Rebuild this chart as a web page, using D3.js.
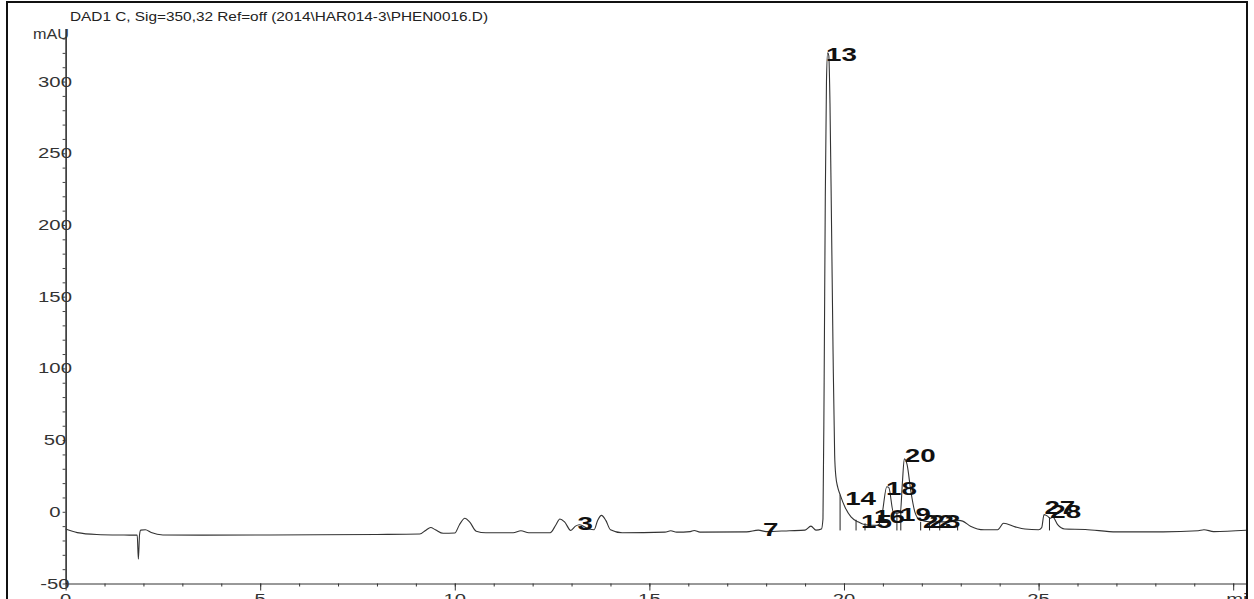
<!DOCTYPE html>
<html>
<head>
<meta charset="utf-8">
<script src="https://cdn.jsdelivr.net/npm/d3@7"></script>
<style>
  html, body { margin: 0; padding: 0; background: #fff; }
  svg { display: block; }
</style>
</head>
<body>
<div id="chart"></div>
<script>
// signal trace (time in min, signal in mAU)
const traceTime = [
  0.00, 0.30, 0.80, 1.50, 1.84, 1.87, 1.90, 1.93, 2.05, 2.20, 2.50, 3.50, 5.00, 6.50, 8.00,
  9.10, 9.25, 9.38, 9.50, 9.70, 10.00, 10.12, 10.26, 10.38, 10.55, 10.80, 11.50, 11.70, 11.90,
  12.45, 12.60, 12.70, 12.82, 12.98, 13.10, 13.20, 13.45, 13.58, 13.67, 13.77, 13.88, 14.00,
  14.30, 15.40, 15.55, 15.70, 16.05, 16.15, 16.30, 17.50, 17.80, 18.00, 18.60, 19.00, 19.15,
  19.28, 19.42, 19.46, 19.49, 19.52, 19.55, 19.58, 19.61, 19.64, 19.68, 19.72, 19.76, 19.79,
  19.84, 19.90, 20.03, 20.18, 20.36, 20.54, 20.87, 20.97, 21.10, 21.15, 21.27, 21.35, 21.45,
  21.50, 21.55, 21.62, 21.72, 21.82, 21.95, 22.20, 22.70, 22.95, 23.05, 23.25, 23.60, 23.95,
  24.10, 24.40, 24.65, 25.00, 25.08, 25.14, 25.23, 25.30, 25.36, 25.49, 25.67, 26.20, 27.00,
  28.20, 29.10, 29.25, 29.50, 30.35
];
const traceMAU = [
  -12, -14.5, -15.8, -16.2, -16.3, -33, -16, -12.8, -12.5, -14.5, -16.2, -16.3, -16.2, -16, -15.8,
  -15.5, -13, -11, -12.5, -15, -14.8, -9, -4.5, -7, -13.5, -14.6, -14.6, -13.2, -14.6,
  -14.6, -9, -5, -7, -13, -10, -9, -12, -12.5, -6, -2.5, -6, -12.5,
  -14.6, -14.2, -13.2, -14.2, -13.8, -13, -14.2, -14, -12.8, -13.8, -13.2, -12.8, -10,
  -12.8, -12, -5, 90, 220, 300, 320, 318, 285, 200, 110, 40, 25,
  17, 12, 3, -3.5, -7, -9, -9.5, -3, 17.5, 17, -0.5, -1, 0,
  20, 37, 33, 14, 0, -5.6, -7, -7, -6, -6.5, -10, -12.5, -12.5,
  -8, -10.5, -12, -12.5, -11, -2, -3, -4.5, -3.5, -9, -12, -12.3, -14,
  -14, -13.2, -12.5, -13.8, -12.8
];

// peak annotations
const peakIds   = ['3', '7', '13', '14', '15', '16', '18', '19', '20', '22', '23', '27', '28'];
const labelTime = [13.15, 17.92, 19.54, 20.03, 20.44, 20.77, 21.08, 21.44, 21.56, 22.03, 22.2, 25.15, 25.3];
const labelMAU  = [-12.6, -16.7, 314, 4.9, -11, -7.7, 11.9, -6.3, 34.9, -11, -11, -1.4, -4.2];

// integration drop lines
const dropTime = [19.90, 20.31, 20.54, 21.36, 21.46, 21.97, 22.20, 22.46, 22.92, 25.28];
const dropMAU  = [12, -5.6, -8, 0, 0, -7, -7, -7, -9, -4];
const dropBase = -13;

const xTickValues = [0, 5, 10, 15, 20, 25, 30];
const xTickLabels = ['0', '5', '10', '15', '20', '25', 'min'];
const yTickValues = [-50, 0, 50, 100, 150, 200, 250, 300];

const title = 'DAD1 C, Sig=350,32 Ref=off (2014\\HAR014-3\\PHEN0016.D)';

const W = 1254, H = 599;
const stretch = 1.45; // text in the print is wide

const x = d3.scaleLinear().domain([0, 30.35]).range([65.6, 1246.8]);
const y = d3.scaleLinear().domain([-50, 337]).range([583.5, 28.5]);

const svg = d3.select('#chart').append('svg')
  .attr('width', W)
  .attr('height', H);

svg.append('clipPath').attr('id', 'frameclip')
  .append('rect')
  .attr('x', 7).attr('y', 2).attr('width', 1239).attr('height', H);

const g = svg.append('g').attr('clip-path', 'url(#frameclip)');

// x axis, minor and major ticks pointing down
g.append('g')
  .attr('transform', 'translate(0,' + y(-50) + ')')
  .call(d3.axisBottom(x).tickValues(d3.range(0, 31)).tickSize(3).tickSizeOuter(0).tickFormat(''))
  .call(a => a.selectAll('line,path').attr('stroke', '#333'));

g.append('g')
  .attr('transform', 'translate(0,' + y(-50) + ')')
  .call(d3.axisBottom(x).tickValues(xTickValues).tickSize(7).tickSizeOuter(0).tickFormat(''))
  .call(a => a.select('.domain').remove())
  .call(a => a.selectAll('line').attr('stroke', '#333'));

g.selectAll('.xlab')
  .data(xTickValues)
  .enter().append('text')
  .attr('class', 'xlab')
  .attr('transform', (d, i) => 'translate(' + (i === 6 ? x(d) - 7 : x(d)) + ',604) scale(' + stretch + ',1)')
  .style('text-anchor', (d, i) => i === 6 ? 'start' : 'middle')
  .style('font', '14px "Liberation Sans", Arial, sans-serif')
  .style('fill', '#333')
  .text((d, i) => xTickLabels[i]);

// y axis, ticks every 10 mAU
g.append('g')
  .attr('transform', 'translate(' + x(0) + ',0)')
  .call(d3.axisLeft(y).tickValues(d3.range(-50, 331, 10)).tickSize(3).tickSizeOuter(0).tickFormat(''))
  .call(a => a.selectAll('line').attr('stroke', '#444'))
  .call(a => a.select('.domain').attr('stroke', '#111').attr('stroke-width', 1.4));

g.selectAll('.ylab')
  .data(yTickValues)
  .enter().append('text')
  .attr('class', 'ylab')
  .attr('transform', d => 'translate(55,' + (y(d) + 5) + ') scale(' + stretch + ',1)')
  .style('text-anchor', 'middle')
  .style('font', '14px "Liberation Sans", Arial, sans-serif')
  .style('fill', '#333')
  .text(d => d);

g.append('text')
  .attr('x', 33).attr('y', 39)
  .attr('textLength', 36).attr('lengthAdjust', 'spacingAndGlyphs')
  .style('font', '14px "Liberation Sans", Arial, sans-serif')
  .style('fill', '#333')
  .text('mAU');

g.append('text')
  .attr('x', 70).attr('y', 21)
  .attr('textLength', 418).attr('lengthAdjust', 'spacingAndGlyphs')
  .style('font', '13.5px "Liberation Sans", Arial, sans-serif')
  .style('fill', '#222')
  .text(title);

// drop lines
g.selectAll('.drop')
  .data(dropTime)
  .enter().append('line')
  .attr('class', 'drop')
  .attr('x1', d => x(d)).attr('x2', d => x(d))
  .attr('y1', y(dropBase))
  .attr('y2', (d, i) => y(dropMAU[i]))
  .attr('stroke', '#222')
  .attr('stroke-width', 1);

// the trace
const line = d3.line()
  .x(d => x(d[0]))
  .y(d => y(d[1]))
  .curve(d3.curveMonotoneX);

g.append('path')
  .datum(d3.zip(traceTime, traceMAU))
  .attr('d', line)
  .attr('fill', 'none')
  .attr('stroke', '#333')
  .attr('stroke-width', 1.1);

// peak numbers
g.selectAll('.peak')
  .data(peakIds)
  .enter().append('text')
  .attr('class', 'peak')
  .attr('transform', (d, i) => 'translate(' + x(labelTime[i]) + ',' + y(labelMAU[i]) + ') scale(1.5,1)')
  .style('font', 'bold 18.5px "Liberation Sans", Arial, sans-serif')
  .style('fill', '#111')
  .text(d => d);

// frame
svg.append('path')
  .attr('d', 'M7,' + H + 'V2H1247V' + H)
  .attr('fill', 'none')
  .attr('stroke', '#111')
  .attr('stroke-width', 2);
</script>
</body>
</html>
